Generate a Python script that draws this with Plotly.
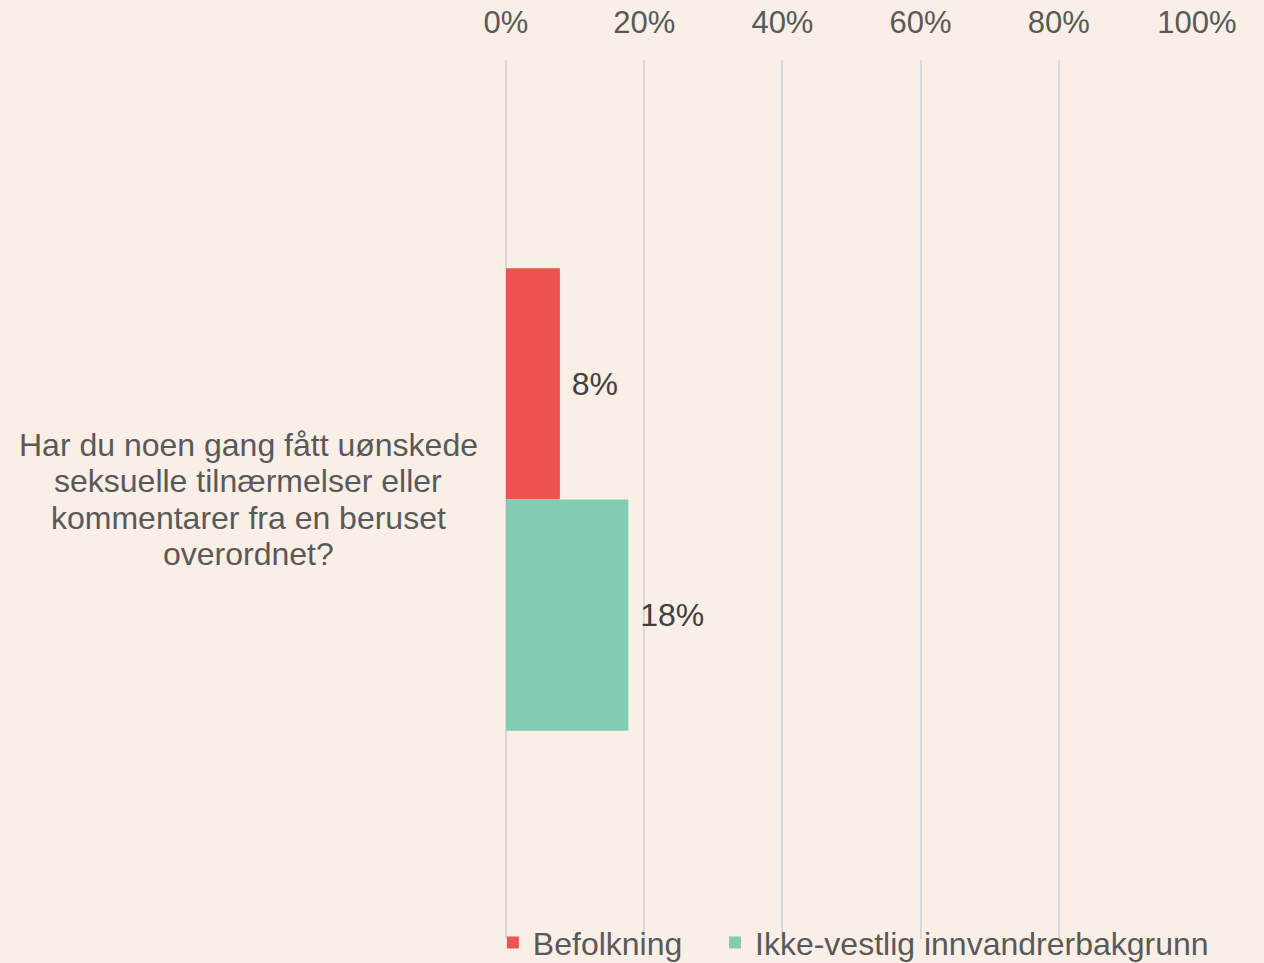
import plotly.graph_objects as go

question_lines = [
    "Har du noen gang fått uønskede",
    "seksuelle tilnærmelser eller",
    "kommentarer fra en beruset",
    "overordnet?",
]
categories = ["<br>".join(question_lines)]
series_names = ["Befolkning", "Ikke-vestlig innvandrerbakgrunn"]
befolkning = [7.8]
ikke_vestlig = [17.7]
colors = ["#EF5350", "#83CCB4"]
tick_values = [0, 20, 40, 60, 80, 100]
tick_labels = ["0%", "20%", "40%", "60%", "80%", "100%"]

FONT = "Liberation Sans, Arial, sans-serif"

fig = go.Figure()
for name, vals, color, leg in zip(
    series_names, [befolkning, ikke_vestlig], colors, ["legend", "legend2"]
):
    fig.add_trace(
        go.Bar(
            y=categories,
            x=vals,
            name=name,
            orientation="h",
            marker=dict(color=color, line=dict(width=0)),
            texttemplate=" %{x:.0f}%",
            textposition="outside",
            textfont=dict(size=32, color="#404040", family=FONT),
            cliponaxis=False,
            legend=leg,
        )
    )

legend_style = dict(
    orientation="h",
    xanchor="left",
    y=0.027,
    yref="paper",
    yanchor="top",
    font=dict(size=32, color="#595959"),
    bgcolor="rgba(0,0,0,0)",
    itemwidth=30,
)

fig.update_layout(
    barmode="group",
    bargap=0.474,
    bargroupgap=0,
    width=1264,
    height=963,
    paper_bgcolor="#F9EFE6",
    plot_bgcolor="#F9EFE6",
    margin=dict(l=506, r=67, t=60, b=24, autoexpand=False),
    font=dict(family=FONT, color="#595959", size=32),
    xaxis=dict(
        side="top",
        range=[0, 100],
        tickvals=tick_values,
        ticktext=tick_labels,
        tickfont=dict(size=31, color="#595959"),
        ticklabelstandoff=20,
        showgrid=True,
        gridcolor="#D9D9D9",
        gridwidth=2,
        zeroline=True,
        zerolinecolor="#D9D9D9",
        zerolinewidth=2,
        showline=False,
        ticks="",
        fixedrange=True,
    ),
    yaxis=dict(
        autorange="reversed",
        showticklabels=False,
        showgrid=False,
        zeroline=False,
        showline=False,
        ticks="",
    ),
    legend=dict(x=-0.019, **legend_style),
    legend2=dict(x=0.3025, **legend_style),
    showlegend=True,
)

# category label, centred, with tighter line spacing than plotly's default
n = len(question_lines)
for i, line in enumerate(question_lines):
    fig.add_annotation(
        x=-0.3727,
        xref="paper",
        y=categories[0],
        yref="y",
        yshift=((n - 1) / 2 - i) * 36.5,
        text=line,
        showarrow=False,
        xanchor="center",
        yanchor="middle",
        font=dict(size=32, color="#595959", family=FONT),
    )

fig.write_html(
    "out.html",
    config={"displayModeBar": False},
    post_script="document.body.style.margin='0';",
)
